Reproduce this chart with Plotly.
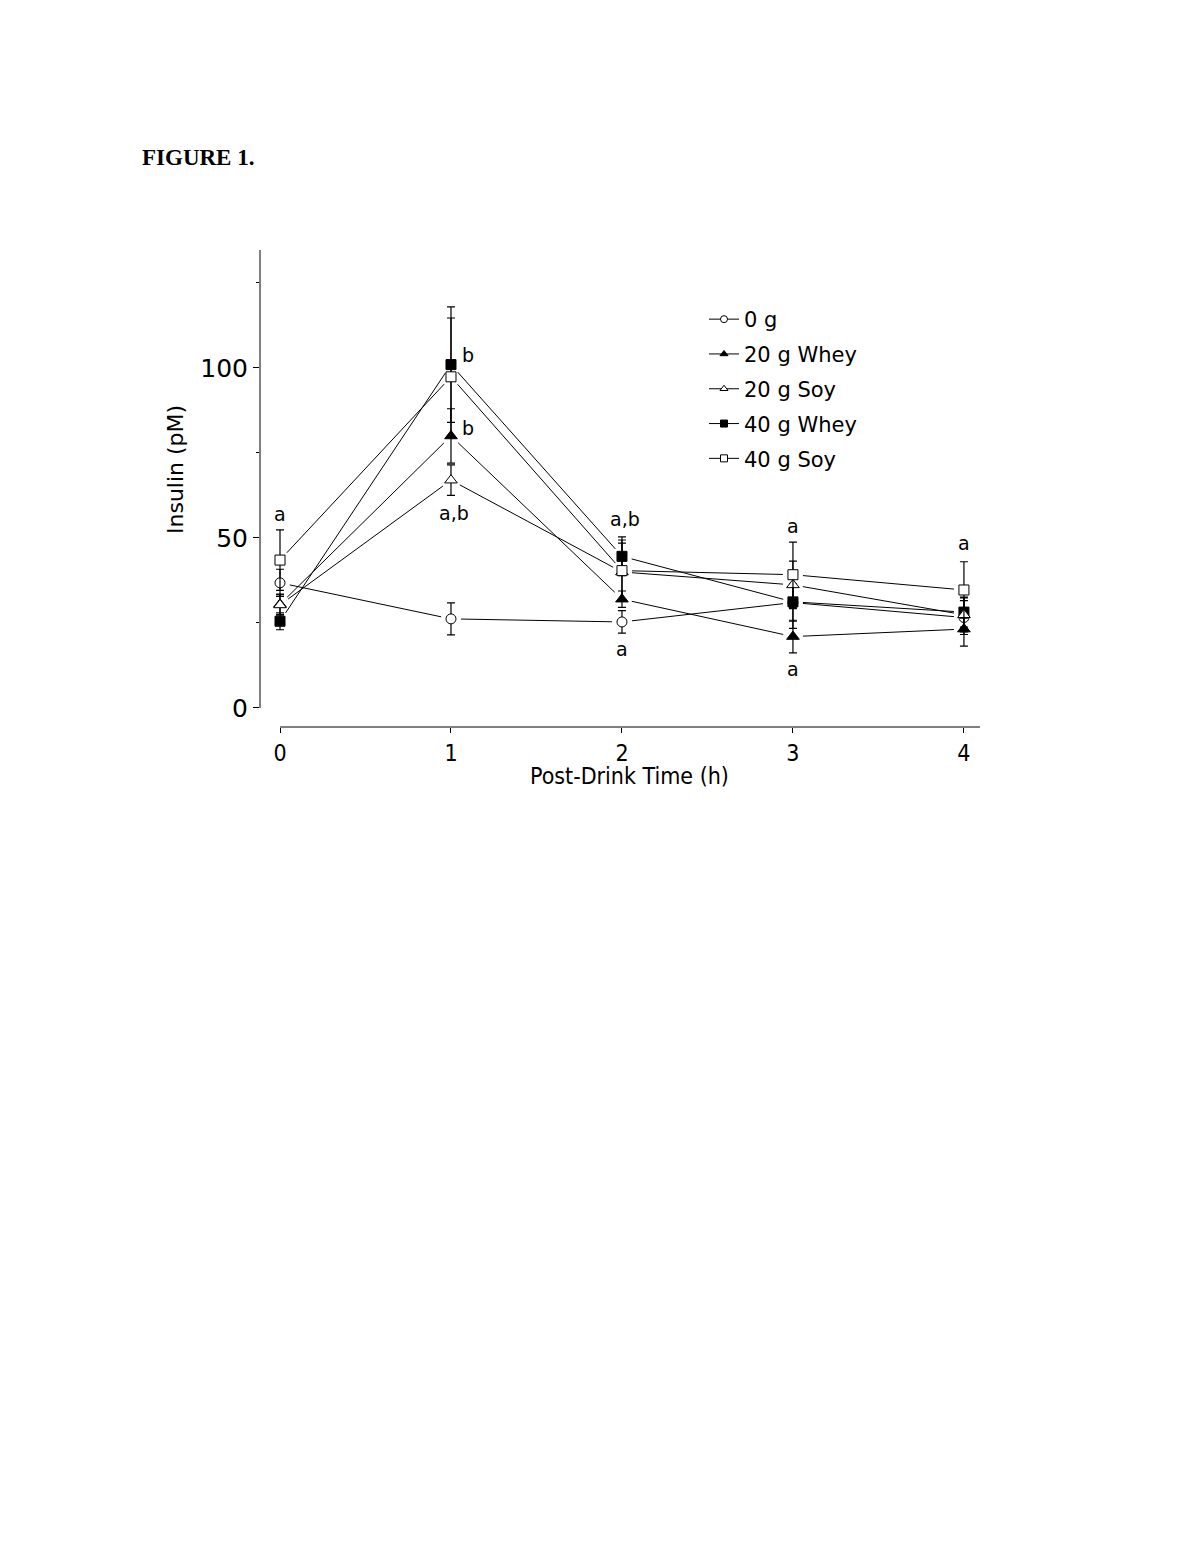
import numpy as np
import plotly.graph_objects as go

# ---- data ----
times = [0, 1, 2, 3, 4]
series_names = ["0 g", "20 g Whey", "20 g Soy", "40 g Whey", "40 g Soy"]
insulin_0g = [36.8, 26.2, 25.3, 31.0, 26.6]
err_0g = [4.0, 4.7, 3.3, 5.5, 5.0]
insulin_20whey = [30.5, 80.0, 32.0, 21.0, 23.2]
err_20whey = [3.0, 8.0, 2.4, 4.8, 5.0]
insulin_20soy = [30.3, 67.0, 40.0, 36.2, 27.4]
err_20soy = [3.0, 4.5, 8.5, 7.0, 5.0]
insulin_40whey = [25.5, 101.0, 44.6, 31.2, 28.2]
err_40whey = [2.5, 17.0, 5.7, 7.8, 4.4]
insulin_40soy = [43.5, 97.4, 40.4, 39.2, 34.7]
err_40soy = [8.9, 17.3, 9.0, 9.6, 8.3]

sig_labels = ["a", "b", "b", "a,b", "a,b", "a", "a", "a", "a"]

# ---- layout geometry (page pixels, body margin 8px) ----
OFF = 8
FW, FH = 1184, 1537
X0, X1 = -0.117, 4.094
Y0, Y1 = -5.6, 134.7
left_px, right_px, top_px, bot_px = 260, 980, 250, 727
PX_X = (right_px - left_px) / (X1 - X0)
PX_Y = (bot_px - top_px) / (Y1 - Y0)


def px(x):
    return (x - OFF) / FW


def py(y):
    return 1 - (y - OFF) / FH


FONT = "DejaVu Sans, Verdana, sans-serif"
NARROW = "Liberation Sans Narrow, DejaVu Sans Condensed, sans-serif"


def gapped(xs, ys, gap=10.0):
    lx, ly = [], []
    for i in range(len(xs) - 1):
        dx = (xs[i + 1] - xs[i]) * PX_X
        dy = (ys[i + 1] - ys[i]) * PX_Y
        f = gap / np.hypot(dx, dy)
        lx += [xs[i] + (xs[i + 1] - xs[i]) * f, xs[i + 1] - (xs[i + 1] - xs[i]) * f, None]
        ly += [ys[i] + (ys[i + 1] - ys[i]) * f, ys[i + 1] - (ys[i + 1] - ys[i]) * f, None]
    return lx, ly


series = {
    "0 g": (insulin_0g, err_0g, "circle", "white"),
    "20 g Whey": (insulin_20whey, err_20whey, "triangle-up", "black"),
    "20 g Soy": (insulin_20soy, err_20soy, "triangle-up", "white"),
    "40 g Whey": (insulin_40whey, err_40whey, "square", "black"),
    "40 g Soy": (insulin_40soy, err_40soy, "square", "white"),
}
draw_order = ["0 g", "20 g Whey", "40 g Whey", "20 g Soy", "40 g Soy"]

fig = go.Figure()

for name in series_names:
    vals, errs, sym, fill = series[name]
    lx, ly = gapped(times, vals)
    fig.add_trace(go.Scatter(x=lx, y=ly, mode="lines", line=dict(color="black", width=1),
                             showlegend=False, hoverinfo="skip"))

for name in draw_order:
    vals, errs, sym, fill = series[name]
    size = 10 if sym != "triangle-up" else 11
    fig.add_trace(go.Scatter(
        x=times, y=vals, mode="markers", showlegend=False,
        marker=dict(symbol=sym, size=size, color=fill, line=dict(color="black", width=1)),
        error_y=dict(type="data", array=errs, visible=True, color="black", thickness=1.2, width=4),
    ))

for i, name in enumerate(series_names):
    vals, errs, sym, fill = series[name]
    fig.add_trace(go.Scatter(
        x=[None], y=[None], mode="lines+markers", name=name, legendgroup=name,
        marker=dict(symbol=sym, size=7, color=fill, line=dict(color="black", width=1)),
        line=dict(color="black", width=1),
    ))

# significance letters
sig_pos = [(0, 57.0), (1.1, 103.8), (1.1, 82.4), (1.02, 57.4), (2.02, 55.6),
           (2, 17.4), (3, 53.5), (3, 11.5), (4, 48.5)]
for lab, (sx, sy) in zip(sig_labels, sig_pos):
    fig.add_annotation(x=sx, y=sy, text=lab, showarrow=False, xref="x", yref="y",
                       font=dict(family=FONT, size=19, color="black"))

# axis lines (detached)
fig.add_shape(type="line", xref="x domain", yref="y", x0=0, x1=0, y0=0, y1=Y1,
              line=dict(color="black", width=1))
fig.add_shape(type="line", xref="x", yref="y domain", x0=0, x1=X1, y0=0, y1=0,
              line=dict(color="black", width=1))

fig.add_annotation(text="<b>FIGURE 1.</b>", x=px(140), y=py(157), xref="paper", yref="paper",
                   xanchor="left", yanchor="middle", showarrow=False,
                   font=dict(family="Liberation Serif, Times New Roman, serif", size=23, color="black"))
fig.add_annotation(text="Insulin (pM)", x=px(176), y=py(470), xref="paper", yref="paper",
                   xanchor="center", yanchor="middle", textangle=-90, showarrow=False,
                   font=dict(family=FONT, size=22, color="black"))
fig.add_annotation(text="Post-Drink Time (h)", x=px(629), y=py(776), xref="paper", yref="paper",
                   xanchor="center", yanchor="middle", showarrow=False,
                   font=dict(family=NARROW, size=23, color="black"))

fig.update_layout(
    width=FW, height=FH, margin=dict(l=0, r=0, t=0, b=0),
    paper_bgcolor="white", plot_bgcolor="white",
    showlegend=True,
    legend=dict(x=px(704), y=py(299), xanchor="left", yanchor="top",
                font=dict(family=FONT, size=21, color="black"),
                bgcolor="rgba(0,0,0,0)", itemwidth=30, tracegroupgap=4.5),
    xaxis=dict(domain=[px(left_px), px(right_px)], range=[X0, X1], showgrid=False, zeroline=False,
               showline=False, tickmode="array", tickvals=times, ticktext=[str(t) for t in times],
               ticks="outside", ticklen=5, tickwidth=1, tickcolor="black",
               tickfont=dict(family=NARROW, size=23, color="black")),
    yaxis=dict(domain=[py(bot_px), py(top_px)], range=[Y0, Y1], showgrid=False, zeroline=False,
               showline=False, tickmode="array", tickvals=[0, 50, 100], ticktext=["0", "50", "100"],
               ticks="outside", ticklen=6, tickwidth=1, tickcolor="black",
               minor=dict(tickvals=[25, 75, 125], ticks="outside", ticklen=3, tickcolor="black", tickwidth=1),
               tickfont=dict(family=FONT, size=25, color="black")),
)

fig.write_html("out.html")
